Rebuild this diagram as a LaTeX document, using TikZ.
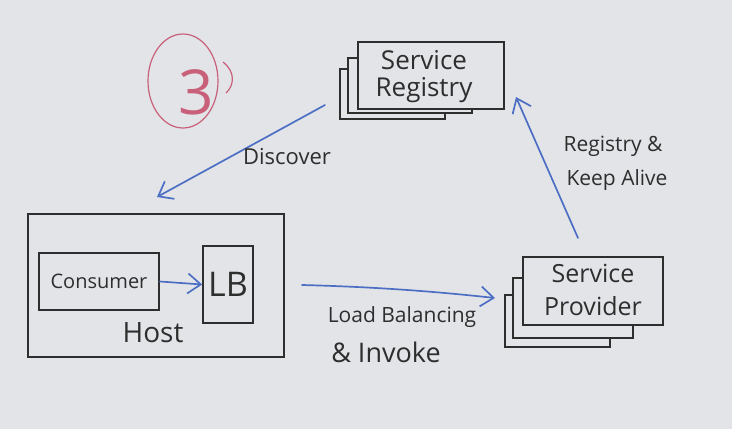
\documentclass[tikz,border=0pt]{standalone}
\usepackage{fontspec}
\setmainfont{Open Sans}
\usetikzlibrary{arrows.meta}
\definecolor{board}{HTML}{E3E4E8}
\definecolor{ink}{HTML}{2E2E2E}
\definecolor{bluepen}{HTML}{4C6FC4}
\definecolor{redpen}{HTML}{C8607A}
\tikzset{
  box/.style={draw=ink, line width=1.7pt, fill=board, inner sep=0pt},
  hand/.style={text=ink, inner sep=0pt, align=center},
  flow/.style={draw=bluepen, line width=1.7pt, line cap=round, -{Straight Barb[length=13pt,width=20pt,line width=1.7pt]}},
}
\begin{document}
\begin{tikzpicture}[x=1pt,y=-1pt]
\fill[board] (0,0) rectangle (732,429);
\useasboundingbox (0,0) rectangle (732,429);

% circled 3
\draw[redpen, line width=1.2pt] (183,81) ellipse[x radius=35, y radius=47];
\node[text=redpen, inner sep=0pt, font=\fontsize{62}{62}\selectfont] (three) at (196,92) {3};
\draw[redpen, line width=1.2pt] (223,62) .. controls (236,72) and (234,86) .. (226,93);

% Service Registry stack
\node[box, minimum width=105, minimum height=50] (reg3) at (392.5,94) {};
\node[box, minimum width=124, minimum height=55] (reg2) at (410,85.5) {};
\node[box, minimum width=146, minimum height=67] (reg1) at (431,75.5) {};
\node[hand, font=\fontsize{26}{27}\selectfont] (regt) at (424,77) {Service\\Registry};

% Host
\node[box, minimum width=256, minimum height=143] (host) at (156,285.5) {};
\node[box, minimum width=120, minimum height=57, font=\fontsize{20}{22}\selectfont, text=ink] (cons) at (99,281.5) {Consumer};
\node[box, minimum width=50, minimum height=77, font=\fontsize{34}{34}\selectfont, text=ink] (lb) at (228,284.5) {LB};
\node[hand, font=\fontsize{28}{28}\selectfont] (hostl) at (153,333) {Host};

% Service Provider stack
\node[box, minimum width=105, minimum height=52] (prov3) at (557.5,321) {};
\node[box, minimum width=120, minimum height=60] (prov2) at (573,308) {};
\node[box, minimum width=140, minimum height=68] (prov1) at (593,291) {};
\node[hand, font=\fontsize{25}{33}\selectfont] (provt) at (593,290) {Service\\Provider};

% connectors
\draw[flow] (cons.east) -- (lb.west);

\coordinate (dA) at (325,105);
\coordinate (dB) at (157,197);
\draw[flow] (dA) -- (dB);
\node[hand, font=\fontsize{22}{22}\selectfont] (disc) at (287,157) {Discover};

\coordinate (lA) at (302,285);
\coordinate (lB) at (495,298);
\draw[flow] (lA) .. controls (380,287) and (440,292) .. (lB);
\node[hand, font=\fontsize{21}{21}\selectfont] (lbl1) at (402,317) {Load Balancing};
\node[hand, font=\fontsize{27}{27}\selectfont] (lbl2) at (386,352) {\& Invoke};

\coordinate (rA) at (578,238);
\coordinate (rB) at (516,97);
\draw[flow] (rA) -- (rB);
\node[hand, font=\fontsize{21}{21}\selectfont] (rl1) at (613,146) {Registry \&};
\node[hand, font=\fontsize{21}{21}\selectfont] (rl2) at (617,180) {Keep Alive};
\end{tikzpicture}
\end{document}
